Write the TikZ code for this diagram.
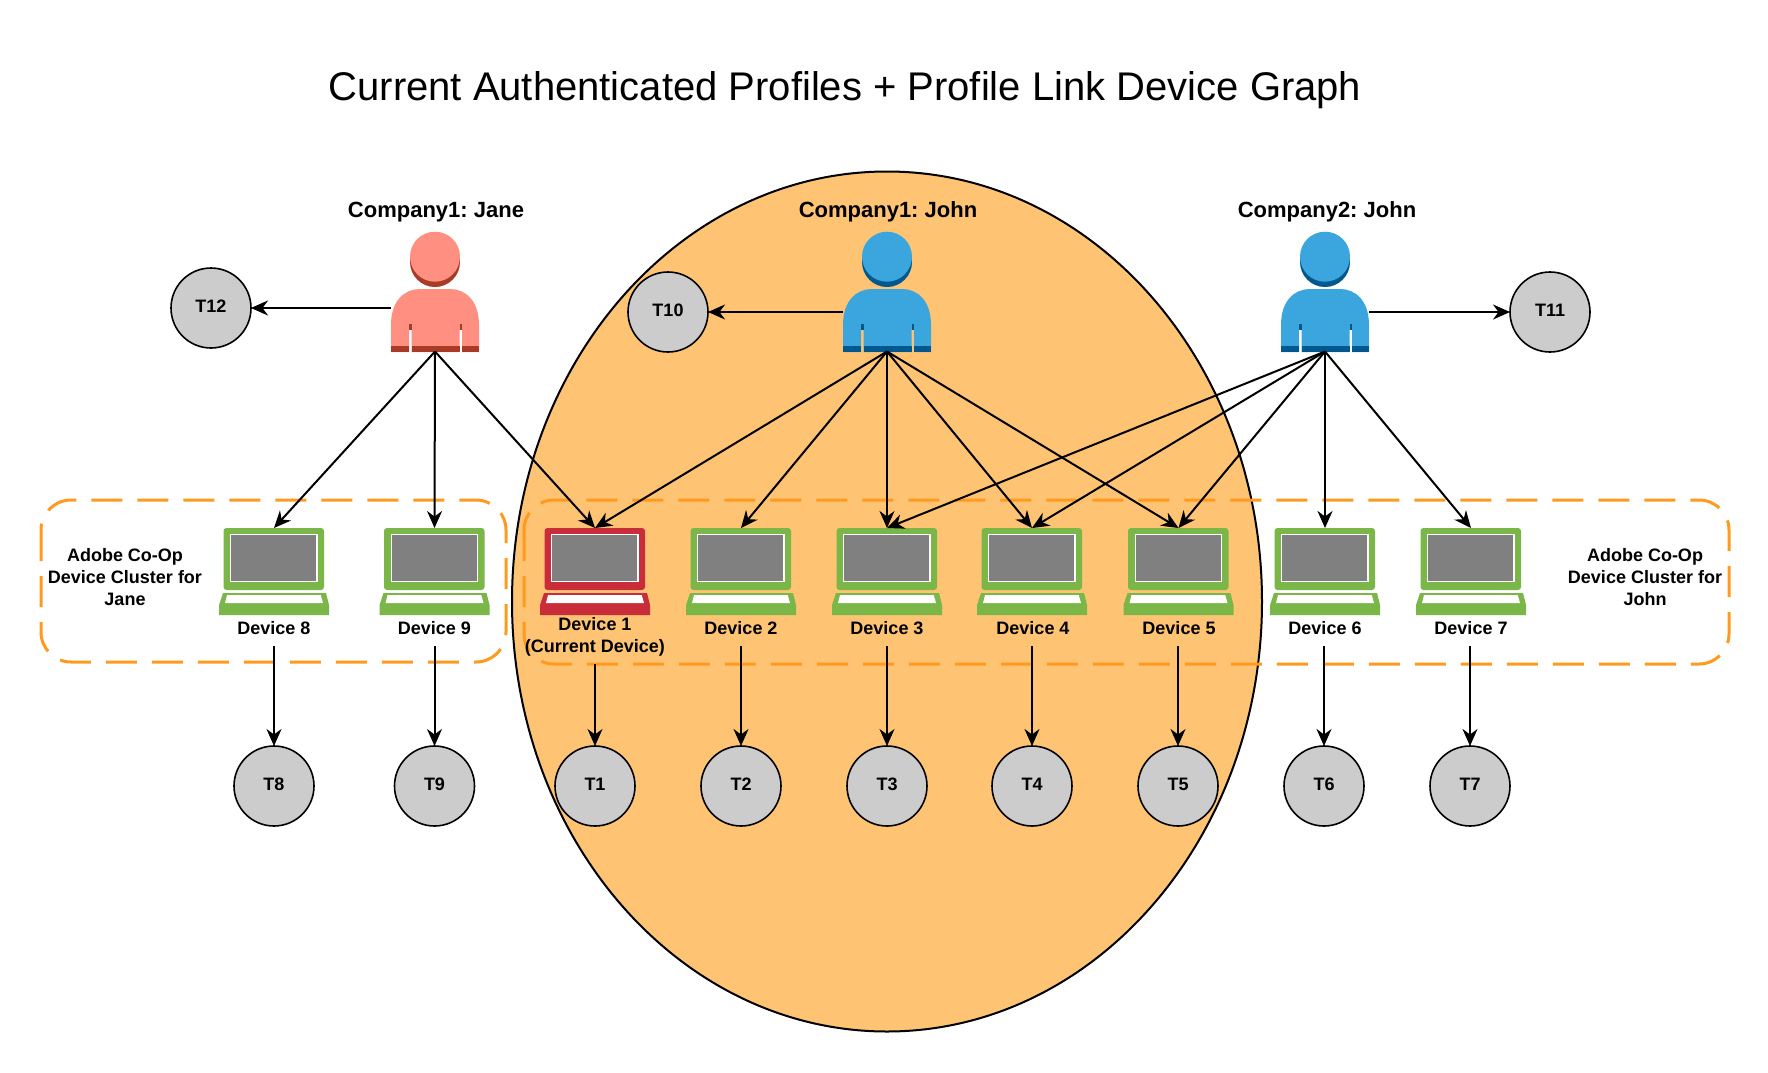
\documentclass[tikz,border=0pt]{standalone}
\usepackage{fontspec}
\setmainfont{Liberation Sans}
\frenchspacing
\usetikzlibrary{arrows.meta, positioning}
\definecolor{clusterorange}{HTML}{FF9A1F}
\definecolor{johnarea}{HTML}{FFC374}
\definecolor{janepink}{HTML}{FF8F80}
\definecolor{janedark}{HTML}{A93A26}
\definecolor{johnblue}{HTML}{3AA6DD}
\definecolor{johndark}{HTML}{00588F}
\definecolor{laptopgreen}{HTML}{7AB648}
\definecolor{laptopred}{HTML}{C92D39}
\definecolor{screengray}{HTML}{808080}
\definecolor{tracegray}{HTML}{CCCCCC}

\begin{document}
\begin{tikzpicture}[
    x=0.5pt, y=-0.5pt,
    pics/person/.style 2 args={code={
      \fill[#2] (0,-58) circle (25);
      \fill[#1] (0,-63.3) circle (25);
      \fill[#1] (-44,32) -- (-44,5) .. controls (-44,-20) and (-30,-31) .. (-15,-31)
        -- (15,-31) .. controls (30,-31) and (44,-20) .. (44,5) -- (44,32)
        -- (27,32) -- (27,9.5) -- (24.5,9.5) -- (24.5,32)
        -- (-23.5,32) -- (-23.5,9.5) -- (-26,9.5) -- (-26,32) -- cycle;
      \fill[#2] (-44,26) rectangle (-26,32);
      \fill[#2] (-23.5,26) rectangle (24.5,32);
      \fill[#2] (27,26) rectangle (44,32);
      \fill[#2] (-26,4) rectangle (-23.5,9.5);
      \fill[#2] (24.5,4) rectangle (27,9.5);
    }},
    pics/laptop/.style={code={
      \fill[#1, rounded corners=1.5pt] (-50.5,-43.5) rectangle (50,18.5);
      \fill[white] (-44,-37.5) rectangle (43.5,10.5);
      \fill[screengray] (-42.7,-36.2) rectangle (42.2,9.2);
      \fill[#1] (-55,43.5) -- (55,43.5) -- (55,33.5) -- (52,21.5)
        -- (-51,21.5) -- (-55,33.5) -- cycle;
      \fill[white] (-49,31.5) -- (49,31.5) -- (46.7,23.5) -- (-47,23.5) -- cycle;
    }},
    device/.style={minimum width=50pt, minimum height=43.5pt, inner sep=0pt, outer sep=0pt},
    persona/.style={minimum width=44pt, minimum height=31.5pt, inner sep=0pt, outer sep=0pt},
    devlabel/.style={font=\fontsize{9}{11}\selectfont\bfseries, align=center,
                     minimum height=18pt, inner sep=0pt, outer sep=0pt},
    owner/.style={font=\fontsize{11}{13}\selectfont\bfseries, inner sep=0pt},
    clustertext/.style={font=\fontsize{9}{11}\selectfont\bfseries, align=center, inner sep=0pt},
    trace/.style={circle, draw=black, fill=tracegray, line width=0.8pt, minimum size=40pt,
                  inner sep=0pt, outer sep=0pt, text height=6.5pt, text depth=2pt,
                  font=\fontsize{9}{11}\selectfont\bfseries},
    cluster/.style={draw=clusterorange, line width=1.5pt, rounded corners=15pt,
                    dash pattern=on 15.5pt off 7.5pt},
    link/.style={-{Stealth[length=8.5pt, width=7.5pt]}, line width=1pt}
  ]
    \useasboundingbox (0,0) rectangle (1768,1072);
    \fill[white] (0,0) rectangle (1768,1072);

    \node[font=\fontsize{20}{24}\selectfont, inner sep=0pt] (title) at (845, 90)
      {Current Authenticated Profiles + Profile Link Device Graph};

    % shared profile area and device clusters
    \draw[fill=johnarea, line width=1pt] (887, 601.5) ellipse (375 and 430);
    \draw[cluster] (41, 500) rectangle (506, 662);
    \draw[cluster] (524, 500) rectangle (1729, 664);
    \node[clustertext] (janecluster) at (125, 577)
      {Adobe Co-Op\\Device Cluster for\\Jane};
    \node[clustertext] (johncluster) at (1645, 577.5)
      {Adobe Co-Op\\Device Cluster for\\John};

    % profiles
    \pic at (435, 320) {person={janepink}{janedark}};
    \pic at (887, 320) {person={johnblue}{johndark}};
    \pic at (1325, 320) {person={johnblue}{johndark}};
    \node[persona] (jane) at (435, 320) {};
    \node[persona] (john1) at (887, 320) {};
    \node[persona] (john2) at (1325, 320) {};
    \node[owner] (janename) at (436, 212) {Company1: Jane};
    \node[owner] (john1name) at (888, 212) {Company1: John};
    \node[owner] (john2name) at (1327, 212) {Company2: John};

    % devices
    \pic at (595, 571.5) {laptop=laptopred};
    \pic at (741, 571.5) {laptop=laptopgreen};
    \pic at (887, 571.5) {laptop=laptopgreen};
    \pic at (1032, 571.5) {laptop=laptopgreen};
    \pic at (1178.5, 571.5) {laptop=laptopgreen};
    \pic at (1325, 571.5) {laptop=laptopgreen};
    \pic at (1471, 571.5) {laptop=laptopgreen};
    \pic at (274, 571.5) {laptop=laptopgreen};
    \pic at (434.5, 571.5) {laptop=laptopgreen};
    \node[device] (d1) at (595, 571.5) {};
    \node[device] (d2) at (741, 571.5) {};
    \node[device] (d3) at (887, 571.5) {};
    \node[device] (d4) at (1032, 571.5) {};
    \node[device] (d5) at (1178.5, 571.5) {};
    \node[device] (d6) at (1325, 571.5) {};
    \node[device] (d7) at (1471, 571.5) {};
    \node[device] (d8) at (274, 571.5) {};
    \node[device] (d9) at (434.5, 571.5) {};

    \node[devlabel, minimum height=27pt] (l1) at (595, 637) {Device 1\\(Current Device)};
    \node[devlabel] (l2) at (741, 628) {Device 2};
    \node[devlabel] (l3) at (887, 628) {Device 3};
    \node[devlabel] (l4) at (1033, 628) {Device 4};
    \node[devlabel] (l5) at (1179, 628) {Device 5};
    \node[devlabel] (l6) at (1325, 628) {Device 6};
    \node[devlabel] (l7) at (1471, 628) {Device 7};
    \node[devlabel] (l8) at (274, 628) {Device 8};
    \node[devlabel] (l9) at (434.5, 628) {Device 9};

    % traces
    \node[trace] (t1) at (595, 786) {T1};
    \node[trace] (t2) at (741, 786) {T2};
    \node[trace] (t3) at (887, 786) {T3};
    \node[trace] (t4) at (1032, 786) {T4};
    \node[trace] (t5) at (1178, 786) {T5};
    \node[trace] (t6) at (1324, 786) {T6};
    \node[trace] (t7) at (1470, 786) {T7};
    \node[trace] (t8) at (274, 786) {T8};
    \node[trace] (t9) at (434.5, 786) {T9};
    \node[trace] (t10) at (668, 312) {T10};
    \node[trace] (t11) at (1550, 312) {T11};
    \node[trace] (t12) at (211, 308) {T12};

    \draw[link] (jane.west |- t12.east) -- (t12.east);
    \draw[link] (john1.west |- t10.east) -- (t10.east);
    \draw[link] (john2.east |- t11.west) -- (t11.west);

    \draw[link] (jane.south) -- (d8.north);
    \draw[link] (jane.south) -- (d9.north);
    \draw[link] (jane.south) -- (d1.north);

    \draw[link] (john1.south) -- (d1.north);
    \draw[link] (john1.south) -- (d2.north);
    \draw[link] (john1.south) -- (d3.north);
    \draw[link] (john1.south) -- (d4.north);
    \draw[link] (john1.south) -- (d5.north);

    \draw[link] (john2.south) -- (d3.north);
    \draw[link] (john2.south) -- (d4.north);
    \draw[link] (john2.south) -- (d5.north);
    \draw[link] (john2.south) -- (d6.north);
    \draw[link] (john2.south) -- (d7.north);

    \draw[link] (l1.south) -- (t1.north);
    \draw[link] (l2.south) -- (t2.north);
    \draw[link] (l3.south) -- (t3.north);
    \draw[link] (l4.south -| t4.north) -- (t4.north);
    \draw[link] (l5.south -| t5.north) -- (t5.north);
    \draw[link] (l6.south -| t6.north) -- (t6.north);
    \draw[link] (l7.south -| t7.north) -- (t7.north);
    \draw[link] (l8.south) -- (t8.north);
    \draw[link] (l9.south) -- (t9.north);
  \end{tikzpicture}
\end{document}
